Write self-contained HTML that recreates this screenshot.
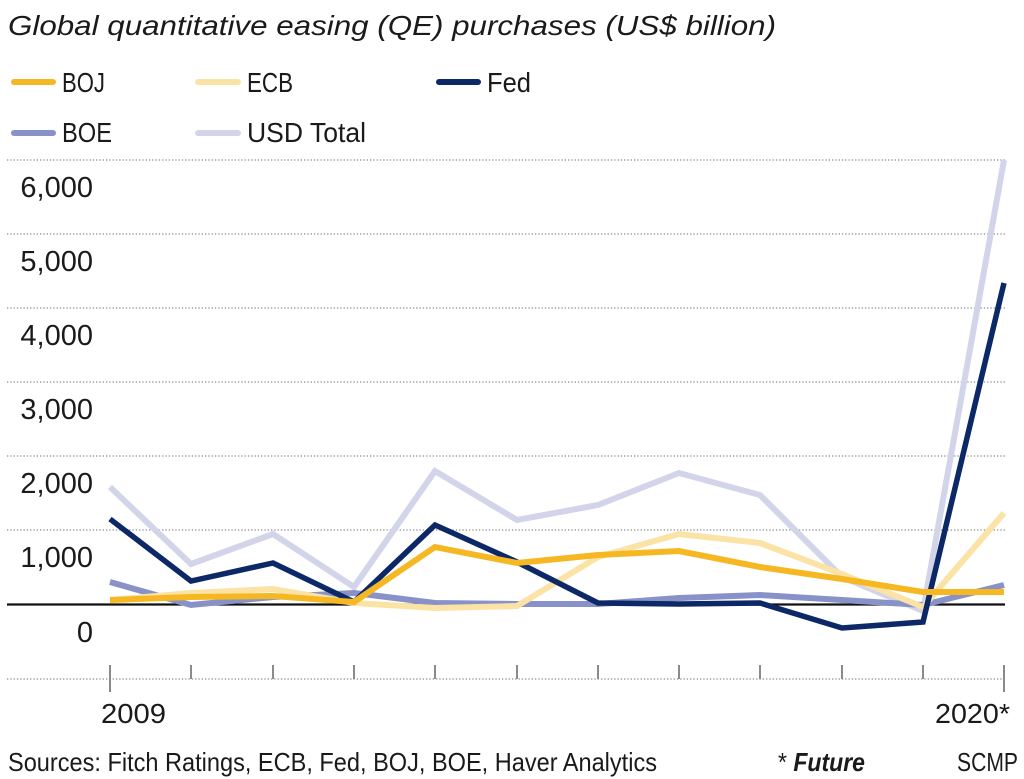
<!DOCTYPE html>
<html>
<head>
<meta charset="utf-8">
<style>
html,body{margin:0;padding:0;background:#fff;}
svg{display:block;}
text{font-family:"Liberation Sans",sans-serif;fill:#1a1a1a;}
</style>
</head>
<body>
<svg width="1024" height="779" viewBox="0 0 1024 779" xmlns="http://www.w3.org/2000/svg">
  <!-- Title -->
  <text x="8" y="35" font-size="28" font-style="italic" textLength="768" lengthAdjust="spacingAndGlyphs">Global quantitative easing (QE) purchases (US$ billion)</text>

  <!-- Legend -->
  <g stroke-linecap="round" stroke-width="6">
    <line x1="14" y1="82" x2="53" y2="82" stroke="#f5b823"/>
    <line x1="198" y1="82" x2="238" y2="82" stroke="#fbe3a5"/>
    <line x1="439" y1="82" x2="478" y2="82" stroke="#0c2866"/>
    <line x1="14" y1="133" x2="53" y2="133" stroke="#8892c8"/>
    <line x1="198" y1="133" x2="238" y2="133" stroke="#d2d5ea"/>
  </g>
  <g font-size="28">
    <text x="62" y="92" textLength="43" lengthAdjust="spacingAndGlyphs">BOJ</text>
    <text x="247" y="92" textLength="46" lengthAdjust="spacingAndGlyphs">ECB</text>
    <text x="487" y="92" textLength="44" lengthAdjust="spacingAndGlyphs">Fed</text>
    <text x="62" y="142" textLength="50" lengthAdjust="spacingAndGlyphs">BOE</text>
    <text x="247" y="142" textLength="119" lengthAdjust="spacingAndGlyphs">USD Total</text>
  </g>

  <!-- Gridlines -->
  <g stroke="#8a8a8a" stroke-width="1.3" stroke-dasharray="1.3 2">
    <line x1="7" y1="160" x2="1005" y2="160"/>
    <line x1="7" y1="234" x2="1005" y2="234"/>
    <line x1="7" y1="308" x2="1005" y2="308"/>
    <line x1="7" y1="382" x2="1005" y2="382"/>
    <line x1="7" y1="456" x2="1005" y2="456"/>
    <line x1="7" y1="530" x2="1005" y2="530"/>
    <line x1="7" y1="679" x2="1005" y2="679"/>
  </g>

  <!-- Y labels -->
  <g font-size="29" text-anchor="end">
    <text x="93" y="197">6,000</text>
    <text x="93" y="271">5,000</text>
    <text x="93" y="345">4,000</text>
    <text x="93" y="419">3,000</text>
    <text x="93" y="493">2,000</text>
    <text x="93" y="567">1,000</text>
    <text x="93" y="642">0</text>
  </g>

  <!-- Ticks -->
  <g stroke="#8a8a8a" stroke-width="2">
    <line x1="110" y1="665" x2="110" y2="692"/>
    <line x1="191" y1="665" x2="191" y2="679"/>
    <line x1="273" y1="665" x2="273" y2="679"/>
    <line x1="354" y1="665" x2="354" y2="679"/>
    <line x1="435" y1="665" x2="435" y2="679"/>
    <line x1="517" y1="665" x2="517" y2="679"/>
    <line x1="598" y1="665" x2="598" y2="679"/>
    <line x1="679" y1="665" x2="679" y2="679"/>
    <line x1="760" y1="665" x2="760" y2="679"/>
    <line x1="842" y1="665" x2="842" y2="679"/>
    <line x1="923" y1="665" x2="923" y2="679"/>
    <line x1="1004" y1="665" x2="1004" y2="692"/>
  </g>

  <!-- Zero line -->
  <line x1="7" y1="604.5" x2="1005" y2="604.5" stroke="#111" stroke-width="2.2"/>

  <!-- Series -->
  <g fill="none" stroke-linejoin="miter" stroke-linecap="butt">
    <polyline stroke="#d2d5ea" stroke-width="6" points="110,487 191,564 273,534 354,587 435,471 517,520 598,505 679,473 760,495 842,577 923,611 1004,160"/>
    <polyline stroke="#8892c8" stroke-width="6" points="110,582 191,605 273,597 354,593 435,603 517,604 598,604 679,598 760,595 842,600 923,605 1004,585"/>
    <polyline stroke="#fbe3a5" stroke-width="6" points="110,600 191,593 273,589 354,603 435,608 517,606 598,557 679,534 760,543 842,574 923,607 1004,513"/>
    <polyline stroke="#0c2866" stroke-width="5.5" points="110,519 191,581 273,563 354,602 435,525 517,562 598,603 679,604 760,603 842,628 923,622 1004,283"/>
    <polyline stroke="#f5b823" stroke-width="6" points="110,600 191,597 273,596 354,602 435,547 517,563 598,555 679,551 760,567 842,579 923,592 1004,592"/>
  </g>

  <!-- X labels -->
  <g font-size="28">
    <text x="101" y="723" textLength="65" lengthAdjust="spacingAndGlyphs">2009</text>
    <text x="935" y="723" textLength="75" lengthAdjust="spacingAndGlyphs">2020*</text>
  </g>

  <!-- Footer -->
  <g font-size="26">
    <text x="8" y="771" textLength="649" lengthAdjust="spacingAndGlyphs">Sources: Fitch Ratings, ECB, Fed, BOJ, BOE, Haver Analytics</text>
    <text x="778" y="771" textLength="87" lengthAdjust="spacingAndGlyphs">* <tspan font-weight="bold" font-style="italic">Future</tspan></text>
    <text x="957" y="771" textLength="61" lengthAdjust="spacingAndGlyphs">SCMP</text>
  </g>
</svg>
</body>
</html>
